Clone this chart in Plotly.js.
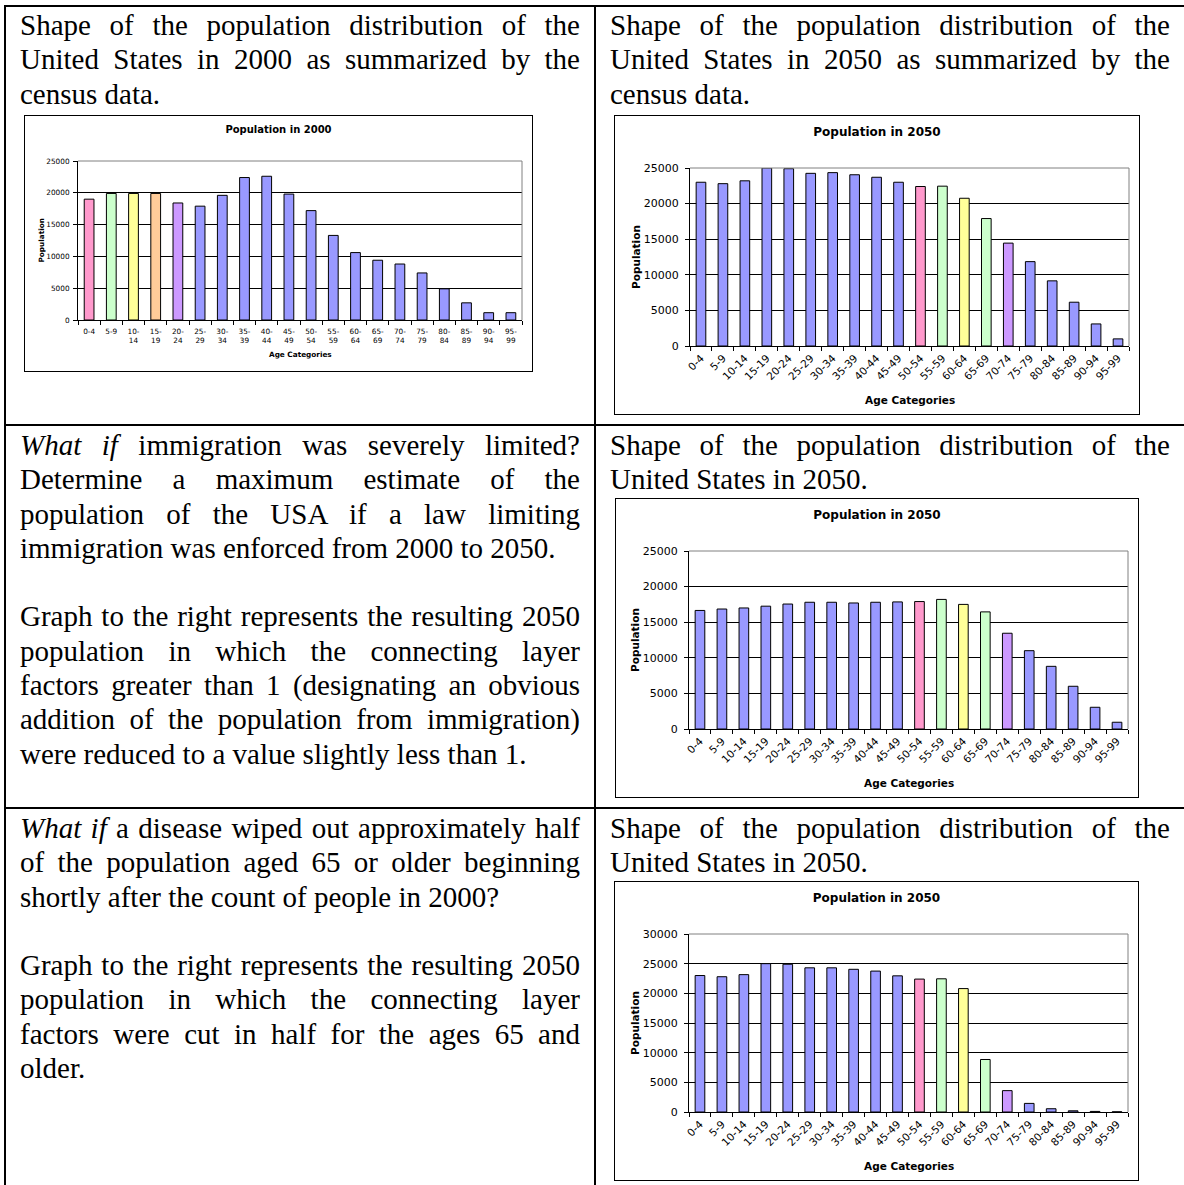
<!DOCTYPE html>
<html>
<head>
<meta charset="utf-8">
<script src="https://cdn.plot.ly/plotly-3.0.1.min.js"></script>
<style>
  html,body{margin:0;padding:0;background:#fff;}
  #page{position:relative;width:1184px;height:1185px;overflow:hidden;background:#fff;}
  .rule{position:absolute;background:#000;}
  .cell{position:absolute;width:560px;font-family:"Liberation Serif","Times New Roman","DejaVu Serif",serif;font-size:29px;line-height:34.3px;color:#000;}
  .cell div{height:34.3px;}
  .j{text-align:justify;text-align-last:justify;}
  .l{text-align:left;}
  .chartbox{position:absolute;border:1px solid #000;background:#fff;}
</style>
</head>
<body>
<div id="page">
  <div class="rule" style="left:4px;top:5px;width:1180px;height:2px;"></div>
  <div class="rule" style="left:4px;top:5px;width:2px;height:1180px;"></div>
  <div class="rule" style="left:594px;top:5px;width:2px;height:1180px;"></div>
  <div class="rule" style="left:4px;top:424px;width:1180px;height:2px;"></div>
  <div class="rule" style="left:4px;top:807px;width:1180px;height:2px;"></div>

  <div class="cell" style="left:20px;top:8px;">
    <div class="j">Shape of the population distribution of the</div>
    <div class="j">United States in 2000 as summarized by the</div>
    <div class="l">census data.</div>
  </div>
  <div class="cell" style="left:610px;top:8px;">
    <div class="j">Shape of the population distribution of the</div>
    <div class="j">United States in 2050 as summarized by the</div>
    <div class="l">census data.</div>
  </div>

  <div class="cell" style="left:20px;top:428px;">
    <div class="j"><i>What if</i> immigration was severely limited?</div>
    <div class="j">Determine a maximum estimate of the</div>
    <div class="j">population of the USA if a law limiting</div>
    <div class="l">immigration was enforced from 2000 to 2050.</div>
    <div class="l"></div>
    <div class="j">Graph to the right represents the resulting 2050</div>
    <div class="j">population in which the connecting layer</div>
    <div class="j">factors greater than 1 (designating an obvious</div>
    <div class="j">addition of the population from immigration)</div>
    <div class="l">were reduced to a value slightly less than 1.</div>
  </div>
  <div class="cell" style="left:610px;top:428px;">
    <div class="j">Shape of the population distribution of the</div>
    <div class="l">United States in 2050.</div>
  </div>

  <div class="cell" style="left:20px;top:811px;">
    <div class="j"><i>What if</i> a disease wiped out approximately half</div>
    <div class="j">of the population aged 65 or older beginning</div>
    <div class="l">shortly after the count of people in 2000?</div>
    <div class="l"></div>
    <div class="j">Graph to the right represents the resulting 2050</div>
    <div class="j">population in which the connecting layer</div>
    <div class="j">factors were cut in half for the ages 65 and</div>
    <div class="l">older.</div>
  </div>
  <div class="cell" style="left:610px;top:811px;">
    <div class="j">Shape of the population distribution of the</div>
    <div class="l">United States in 2050.</div>
  </div>

  <div class="chartbox" style="left:24px;top:115px;"><div id="c1"></div></div>
  <div class="chartbox" style="left:614px;top:115px;"><div id="c2"></div></div>
  <div class="chartbox" style="left:615px;top:498px;"><div id="c3"></div></div>
  <div class="chartbox" style="left:614px;top:881px;"><div id="c4"></div></div>
</div>
<script>
// ---- data ----
const ageCategories = ["0-4","5-9","10-14","15-19","20-24","25-29","30-34","35-39","40-44","45-49",
  "50-54","55-59","60-64","65-69","70-74","75-79","80-84","85-89","90-94","95-99"];
const tickLabels2000 = ["0-4","5-9","10-<br>14","15-<br>19","20-<br>24","25-<br>29","30-<br>34","35-<br>39","40-<br>44","45-<br>49",
  "50-<br>54","55-<br>59","60-<br>64","65-<br>69","70-<br>74","75-<br>79","80-<br>84","85-<br>89","90-<br>94","95-<br>99"];
const pop2000 = [19000,19900,19900,19900,18400,17900,19600,22400,22600,19800,
  17200,13300,10600,9400,8800,7400,4900,2700,1150,1150];
const pop2050 = [23000,22800,23200,25000,24900,24250,24350,24050,23700,23000,
  22400,22450,20750,17900,14450,11850,9150,6150,3100,1000];
const pop2050LimitedImmigration = [16650,16850,17000,17250,17550,17800,17800,17700,17800,17850,
  17900,18200,17500,16450,13450,11000,8800,6000,3050,950];
const pop2050Disease = [23000,22800,23150,25000,24900,24300,24300,24050,23750,22950,
  22400,22450,20800,8850,3600,1450,550,200,100,30];

// ---- styles ----
const BLUE = "#9999FF", PINK = "#FF99CC", GREEN = "#CCFFCC", YELLOW = "#FFFF99", ORANGE = "#FFCC99", PURPLE = "#CC99FF";
const colors2000 = [PINK, GREEN, YELLOW, ORANGE, PURPLE].concat(Array(15).fill(BLUE));
const colors2050 = Array(10).fill(BLUE).concat([PINK, GREEN, YELLOW, GREEN, PURPLE]).concat(Array(5).fill(BLUE));

function drawChart(id, values, colors, ticktext, o) {
  const trace = {
    type: "bar", x: ageCategories, y: values,
    marker: {color: colors, line: {color: "#000", width: 1}},
    hoverinfo: "x+y"
  };
  const layout = {
    width: o.w, height: o.h,
    margin: {l: o.l, r: o.r, t: o.t, b: o.b, pad: 0},
    paper_bgcolor: "#fff", plot_bgcolor: "#fff",
    showlegend: false, bargap: 0.56,
    font: {family: "DejaVu Sans, Verdana, sans-serif", color: "#000"},
    title: {text: "<b>" + o.title + "</b>", font: {size: o.titleSize, color: "#000"},
      x: 0.5, xref: "container", xanchor: "center", y: o.titleY, yref: "container", yanchor: "middle"},
    xaxis: {type: "category", tickvals: ageCategories, ticktext: ticktext, tickangle: o.tickAngle,
      tickfont: {size: o.xTickSize, color: "#000"}, showline: true, linecolor: "#000", linewidth: 1,
      ticks: "outside", tickson: "boundaries", ticklen: 4, tickcolor: "#000", tickwidth: 1,
      ticklabelstandoff: o.xStandoff,
      showgrid: false, zeroline: false, fixedrange: true, automargin: false},
    yaxis: {range: [0, o.yMax], dtick: 5000, tick0: 0, tickformat: "d",
      tickfont: {size: o.yTickSize, color: "#000"}, showline: true, linecolor: "#000", linewidth: 1,
      ticks: "outside", ticklen: 4, tickcolor: "#000", tickwidth: 1, ticklabelstandoff: o.yStandoff,
      showgrid: true, gridcolor: "#000", gridwidth: 1, zeroline: false, fixedrange: true, automargin: false},
    shapes: [{type: "path", xref: "paper", yref: "paper", path: "M0,1 L1,1 L1,0",
      line: {color: "#808080", width: 1}, layer: "above"}],
    annotations: [
      {text: "<b>Population</b>", xref: "paper", yref: "paper", x: 0, y: 0.5, xanchor: "center", yanchor: "middle",
        xshift: -o.yTitleOff, textangle: -90, showarrow: false, font: {size: o.axisTitleSize, color: "#000"}},
      {text: "<b>Age Categories</b>", xref: "paper", yref: "paper", x: 0.5, y: 0, xanchor: "center", yanchor: "middle",
        yshift: -o.xTitleOff, showarrow: false, font: {size: o.axisTitleSize, color: "#000"}}
    ]
  };
  Plotly.newPlot(id, [trace], layout, {staticPlot: true, displayModeBar: false});
}

const small = {titleSize: 10, xTickSize: 7.3, yTickSize: 7.3, axisTitleSize: 7.3, tickAngle: 0,
  yTitleOff: 37, xTitleOff: 34, yStandoff: 2, xStandoff: 4};
const big = {titleSize: 12, xTickSize: 10.5, yTickSize: 11, axisTitleSize: 10.5, tickAngle: -45,
  yTitleOff: 54, xTitleOff: 53.5, yStandoff: 4, xStandoff: 1};

drawChart("c1", pop2000, colors2000, tickLabels2000,
  Object.assign({}, small, {title: "Population in 2000", w: 507, h: 255, l: 53, r: 10, t: 45, b: 51, titleY: 1 - 13/255, yMax: 25000}));
drawChart("c2", pop2050, colors2050, ageCategories,
  Object.assign({}, big, {title: "Population in 2050", w: 524, h: 298, l: 75, r: 10, t: 52, b: 68, titleY: 1 - 15.7/298, yMax: 25000}));
drawChart("c3", pop2050LimitedImmigration, colors2050, ageCategories,
  Object.assign({}, big, {title: "Population in 2050", w: 522, h: 298, l: 73, r: 10, t: 52, b: 68, titleY: 1 - 16/298, yMax: 25000}));
drawChart("c4", pop2050Disease, colors2050, ageCategories,
  Object.assign({}, big, {title: "Population in 2050", w: 523, h: 298, l: 74, r: 10, t: 52, b: 68, titleY: 1 - 15.7/298, yMax: 30000}));
</script>
</body>
</html>
